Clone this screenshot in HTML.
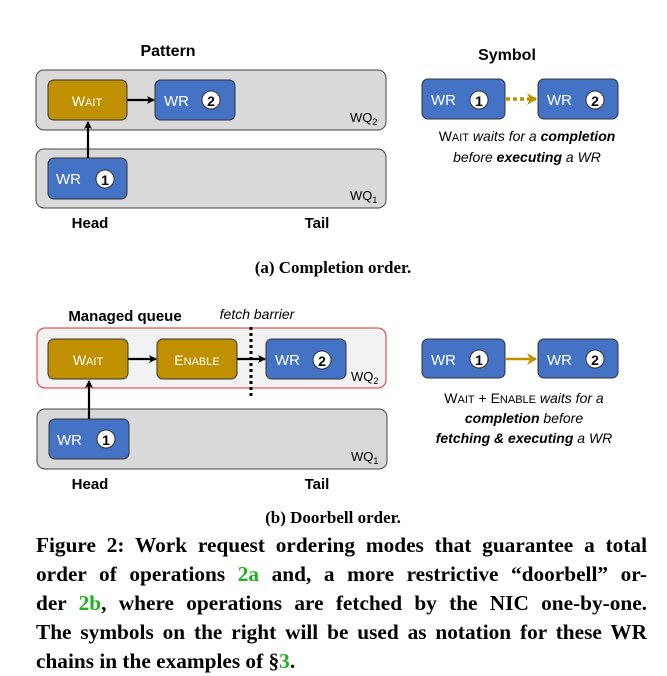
<!DOCTYPE html>
<html><head><meta charset="utf-8"><style>
body{margin:0;background:#fff;width:667px;height:676px;position:relative;overflow:hidden}
svg{position:absolute;left:0;top:0}
.cap{position:absolute;left:36px;top:531px;width:611px;font-family:"Liberation Serif",serif;font-weight:bold;font-size:21.3px;line-height:29px;color:#000;margin:0}
.cap div{text-align:justify;text-align-last:justify;white-space:nowrap}
.cap div.l{text-align-last:left}
.g{color:#1fb01f}
</style></head><body>
<svg width="667" height="676" viewBox="0 0 667 676" font-family="Liberation Sans, Arial, sans-serif">
<defs>
<marker id="ab" markerWidth="8" markerHeight="8" refX="7" refY="4" orient="auto" markerUnits="userSpaceOnUse"><path d="M0,0 L8,4 L0,8 L2,4 z" fill="#000"/></marker>
<marker id="ag" markerWidth="10" markerHeight="12" refX="9" refY="6" orient="auto" markerUnits="userSpaceOnUse"><path d="M0,0 L10,6 L0,12 L3,6 z" fill="#BF9000"/></marker>
</defs>
<text x="168" y="56" font-size="16" font-weight="bold" text-anchor="middle">Pattern</text>
<rect x="36" y="70" width="350" height="60" rx="8" fill="#d9d9d9" stroke="#444" stroke-width="1"/>
<rect x="36" y="149" width="350" height="59" rx="8" fill="#d9d9d9" stroke="#444" stroke-width="1"/>
<text x="350" y="122" font-size="13">WQ<tspan font-size="9" dy="3">2</tspan></text>
<text x="350" y="200" font-size="13">WQ<tspan font-size="9" dy="3">1</tspan></text>
<rect x="48" y="80" width="79" height="40" rx="6" fill="#BF9000" stroke="#333"/>
<text x="87" y="106" font-size="14" fill="#fff" text-anchor="middle">W<tspan font-size="11">AIT</tspan></text>
<rect x="155" y="80" width="80" height="40" rx="6" fill="#4472C4" stroke="#333"/>
<text x="164" y="106" font-size="15" fill="#fff">WR</text>
<circle cx="211" cy="100" r="9" fill="#fff" stroke="#333"/><text x="211" y="106" font-size="14" font-weight="bold" text-anchor="middle">2</text>
<rect x="48" y="158" width="79" height="41" rx="6" fill="#4472C4" stroke="#333"/>
<text x="56" y="184" font-size="15" fill="#fff">WR</text>
<circle cx="105" cy="179" r="9" fill="#fff" stroke="#333"/><text x="105" y="185" font-size="14" font-weight="bold" text-anchor="middle">1</text>
<line x1="88" y1="158" x2="88" y2="122" stroke="#000" stroke-width="2.2" marker-end="url(#ab)"/>
<line x1="127" y1="100" x2="154" y2="100" stroke="#000" stroke-width="2.2" marker-end="url(#ab)"/>
<text x="90" y="228" font-size="15" font-weight="bold" text-anchor="middle">Head</text>
<text x="317" y="228" font-size="15" font-weight="bold" text-anchor="middle">Tail</text>
<text x="507" y="60" font-size="16" font-weight="bold" text-anchor="middle">Symbol</text>
<rect x="422" y="79" width="83" height="40" rx="6" fill="#4472C4" stroke="#333"/>
<text x="431" y="105" font-size="15" fill="#fff">WR</text>
<circle cx="479" cy="100" r="9" fill="#fff" stroke="#333"/><text x="479" y="106" font-size="14" font-weight="bold" text-anchor="middle">1</text>
<rect x="538" y="79" width="80" height="40" rx="6" fill="#4472C4" stroke="#333"/>
<text x="547" y="105" font-size="15" fill="#fff">WR</text>
<circle cx="595" cy="100" r="9" fill="#fff" stroke="#333"/><text x="595" y="106" font-size="14" font-weight="bold" text-anchor="middle">2</text>
<line x1="506" y1="99" x2="536" y2="99" stroke="#BF9000" stroke-width="3.5" stroke-dasharray="4,3" marker-end="url(#ag)"/>
<text x="527" y="141" font-size="14" text-anchor="middle">W<tspan font-size="11">AIT</tspan> <tspan font-style="italic">waits for a </tspan><tspan font-style="italic" font-weight="bold">completion</tspan></text>
<text x="527" y="162" font-size="14" text-anchor="middle" font-style="italic">before <tspan font-weight="bold">executing</tspan> a WR</text>
<text x="333" y="273" font-size="17" font-weight="bold" text-anchor="middle" font-family="Liberation Serif, serif">(a) Completion order.</text>
<text x="125" y="321" font-size="15" font-weight="bold" text-anchor="middle">Managed queue</text>
<text x="257" y="319" font-size="14" font-style="italic" text-anchor="middle">fetch barrier</text>
<rect x="37" y="328" width="349" height="60" rx="8" fill="#f2f2f2" stroke="#e03030" stroke-width="1"/>
<rect x="37" y="409" width="350" height="60" rx="8" fill="#d9d9d9" stroke="#444"/>
<text x="351" y="381" font-size="13">WQ<tspan font-size="9" dy="3">2</tspan></text>
<text x="351" y="461" font-size="13">WQ<tspan font-size="9" dy="3">1</tspan></text>
<rect x="48" y="339" width="80" height="40" rx="6" fill="#BF9000" stroke="#333"/>
<text x="88" y="365" font-size="14" fill="#fff" text-anchor="middle">W<tspan font-size="11">AIT</tspan></text>
<rect x="157" y="339" width="80" height="40" rx="6" fill="#BF9000" stroke="#333"/>
<text x="197" y="365" font-size="14" fill="#fff" text-anchor="middle">E<tspan font-size="11">NABLE</tspan></text>
<rect x="266" y="339" width="80" height="40" rx="6" fill="#4472C4" stroke="#333"/>
<text x="275" y="365" font-size="15" fill="#fff">WR</text>
<circle cx="322" cy="360" r="9" fill="#fff" stroke="#333"/><text x="322" y="366" font-size="14" font-weight="bold" text-anchor="middle">2</text>
<line x1="128" y1="359" x2="156" y2="359" stroke="#000" stroke-width="2.2" marker-end="url(#ab)"/>
<line x1="237" y1="359" x2="265" y2="359" stroke="#000" stroke-width="2.2" marker-end="url(#ab)"/>
<line x1="251" y1="327" x2="251" y2="396" stroke="#000" stroke-width="3" stroke-dasharray="3,3"/>
<rect x="49" y="419" width="80" height="40" rx="6" fill="#4472C4" stroke="#333"/>
<text x="57" y="445" font-size="15" fill="#fff">WR</text>
<circle cx="106" cy="439" r="9" fill="#fff" stroke="#333"/><text x="106" y="445" font-size="14" font-weight="bold" text-anchor="middle">1</text>
<line x1="89" y1="419" x2="89" y2="381" stroke="#000" stroke-width="2.2" marker-end="url(#ab)"/>
<text x="90" y="489" font-size="15" font-weight="bold" text-anchor="middle">Head</text>
<text x="317" y="489" font-size="15" font-weight="bold" text-anchor="middle">Tail</text>
<rect x="422" y="339" width="83" height="39" rx="6" fill="#4472C4" stroke="#333"/>
<text x="431" y="365" font-size="15" fill="#fff">WR</text>
<circle cx="479" cy="359" r="9" fill="#fff" stroke="#333"/><text x="479" y="365" font-size="14" font-weight="bold" text-anchor="middle">1</text>
<rect x="538" y="339" width="80" height="39" rx="6" fill="#4472C4" stroke="#333"/>
<text x="547" y="365" font-size="15" fill="#fff">WR</text>
<circle cx="595" cy="359" r="9" fill="#fff" stroke="#333"/><text x="595" y="365" font-size="14" font-weight="bold" text-anchor="middle">2</text>
<line x1="505" y1="359" x2="536" y2="359" stroke="#BF9000" stroke-width="2.5" marker-end="url(#ag)"/>
<text x="524" y="403" font-size="14" text-anchor="middle">W<tspan font-size="11">AIT</tspan> + E<tspan font-size="11">NABLE</tspan> <tspan font-style="italic">waits for a</tspan></text>
<text x="524" y="423" font-size="14" text-anchor="middle" font-style="italic"><tspan font-weight="bold">completion</tspan> before</text>
<text x="524" y="443" font-size="14" text-anchor="middle" font-style="italic"><tspan font-weight="bold">fetching &amp; executing</tspan> a WR</text>
<text x="333" y="523" font-size="17" font-weight="bold" text-anchor="middle" font-family="Liberation Serif, serif">(b) Doorbell order.</text>
</svg>
<div class="cap">
<div>Figure 2: Work request ordering modes that guarantee a total</div>
<div>order of operations <span class="g">2a</span> and, a more restrictive “doorbell” or-</div>
<div>der <span class="g">2b</span>, where operations are fetched by the NIC one-by-one.</div>
<div>The symbols on the right will be used as notation for these WR</div>
<div class="l">chains in the examples of §<span class="g">3</span>.</div>
</div>
</body></html>
